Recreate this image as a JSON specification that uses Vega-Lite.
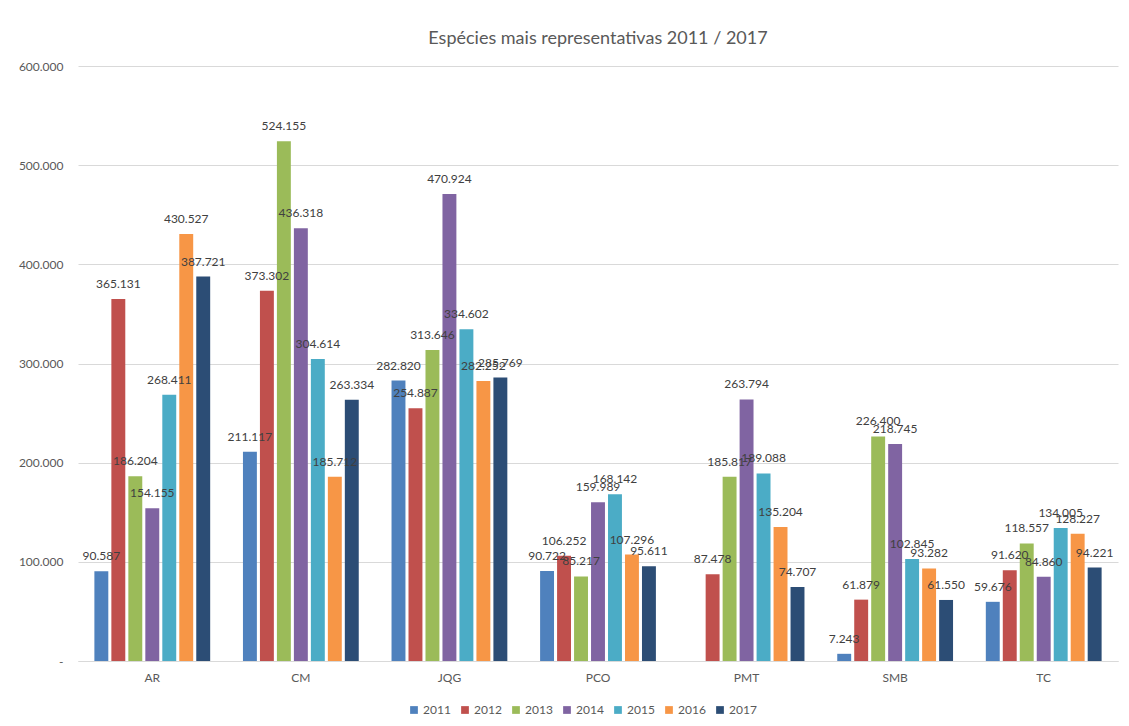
{
  "$schema": "https://vega.github.io/schema/vega-lite/v6.json",
  "width": 1040,
  "height": 595,
  "padding": {"left": 18, "top": 30, "right": 11, "bottom": 8},
  "title": {
    "text": "Espécies mais representativas 2011 / 2017",
    "fontSize": 18,
    "font": "Lato",
    "fontWeight": "normal",
    "color": "#595959",
    "offset": 12,
    "anchor": "middle"
  },
  "data": {
    "values": [
      {"especie": "AR", "ano": "2011", "v": 90587},
      {"especie": "AR", "ano": "2012", "v": 365131},
      {"especie": "AR", "ano": "2013", "v": 186204},
      {"especie": "AR", "ano": "2014", "v": 154155},
      {"especie": "AR", "ano": "2015", "v": 268411},
      {"especie": "AR", "ano": "2016", "v": 430527},
      {"especie": "AR", "ano": "2017", "v": 387721},
      {"especie": "CM", "ano": "2011", "v": 211117},
      {"especie": "CM", "ano": "2012", "v": 373302},
      {"especie": "CM", "ano": "2013", "v": 524155},
      {"especie": "CM", "ano": "2014", "v": 436318},
      {"especie": "CM", "ano": "2015", "v": 304614},
      {"especie": "CM", "ano": "2016", "v": 185712},
      {"especie": "CM", "ano": "2017", "v": 263334},
      {"especie": "JQG", "ano": "2011", "v": 282820},
      {"especie": "JQG", "ano": "2012", "v": 254887},
      {"especie": "JQG", "ano": "2013", "v": 313646},
      {"especie": "JQG", "ano": "2014", "v": 470924},
      {"especie": "JQG", "ano": "2015", "v": 334602},
      {"especie": "JQG", "ano": "2016", "v": 282252},
      {"especie": "JQG", "ano": "2017", "v": 285769},
      {"especie": "PCO", "ano": "2011", "v": 90722},
      {"especie": "PCO", "ano": "2012", "v": 106252},
      {"especie": "PCO", "ano": "2013", "v": 85217},
      {"especie": "PCO", "ano": "2014", "v": 159989},
      {"especie": "PCO", "ano": "2015", "v": 168142},
      {"especie": "PCO", "ano": "2016", "v": 107296},
      {"especie": "PCO", "ano": "2017", "v": 95611},
      {"especie": "PMT", "ano": "2012", "v": 87478},
      {"especie": "PMT", "ano": "2013", "v": 185817},
      {"especie": "PMT", "ano": "2014", "v": 263794},
      {"especie": "PMT", "ano": "2015", "v": 189088},
      {"especie": "PMT", "ano": "2016", "v": 135204},
      {"especie": "PMT", "ano": "2017", "v": 74707},
      {"especie": "SMB", "ano": "2011", "v": 7243},
      {"especie": "SMB", "ano": "2012", "v": 61879},
      {"especie": "SMB", "ano": "2013", "v": 226400},
      {"especie": "SMB", "ano": "2014", "v": 218745},
      {"especie": "SMB", "ano": "2015", "v": 102845},
      {"especie": "SMB", "ano": "2016", "v": 93282},
      {"especie": "SMB", "ano": "2017", "v": 61550},
      {"especie": "TC", "ano": "2011", "v": 59676},
      {"especie": "TC", "ano": "2012", "v": 91620},
      {"especie": "TC", "ano": "2013", "v": 118557},
      {"especie": "TC", "ano": "2014", "v": 84860},
      {"especie": "TC", "ano": "2015", "v": 134005},
      {"especie": "TC", "ano": "2016", "v": 128227},
      {"especie": "TC", "ano": "2017", "v": 94221}
    ]
  },
  "encoding": {
    "x": {
      "field": "especie",
      "type": "nominal",
      "sort": null,
      "scale": {"paddingInner": 0.2, "paddingOuter": 0.1},
      "axis": {
        "title": null,
        "labelAngle": 0,
        "ticks": false,
        "domainColor": "#d9d9d9",
        "labelPadding": 11,
        "labelFontSize": 12,
        "labelColor": "#595959",
        "labelFont": "Lato"
      }
    },
    "xOffset": {
      "field": "ano",
      "type": "nominal",
      "scale": {"paddingInner": 0.18, "paddingOuter": 0.09}
    },
    "y": {
      "field": "v",
      "type": "quantitative",
      "scale": {"domain": [0, 600000], "nice": false},
      "axis": {
        "title": null,
        "values": [0, 100000, 200000, 300000, 400000, 500000, 600000],
        "format": ",d",
        "labelExpr": "datum.value === 0 ? '-' : datum.label",
        "labelOverlap": false,
        "domain": false,
        "ticks": false,
        "gridColor": "#d9d9d9",
        "labelPadding": 15,
        "labelFontSize": 12,
        "labelColor": "#595959",
        "labelFont": "Lato",
        "minExtent": 60,
        "maxExtent": 60
      }
    }
  },
  "layer": [
    {
      "mark": {"type": "bar"},
      "encoding": {
        "color": {
          "field": "ano",
          "type": "nominal",
          "scale": {
            "domain": ["2011", "2012", "2013", "2014", "2015", "2016", "2017"],
            "range": ["#4f81bd", "#c0504d", "#9bbb59", "#8064a2", "#4bacc6", "#f79646", "#2c4d75"]
          },
          "legend": {
            "title": null,
            "orient": "none",
            "legendX": 330,
            "legendY": 638,
            "direction": "horizontal",
            "symbolType": "square",
            "symbolSize": 60,
            "symbolStrokeWidth": 0,
            "labelFontSize": 12,
            "labelColor": "#595959",
            "labelFont": "Lato",
            "columnPadding": 8,
            "labelOffset": 3
          }
        }
      }
    },
    {
      "mark": {
        "type": "text",
        "baseline": "bottom",
        "dy": -8,
        "fontSize": 12,
        "font": "Lato",
        "color": "#404040"
      },
      "encoding": {
        "text": {"field": "v", "type": "quantitative", "format": ",d"}
      }
    }
  ],
  "config": {
    "locale": {
      "number": {"decimal": ",", "thousands": ".", "grouping": [3], "currency": ["R$ ", ""]}
    },
    "view": {"stroke": null}
  }
}
